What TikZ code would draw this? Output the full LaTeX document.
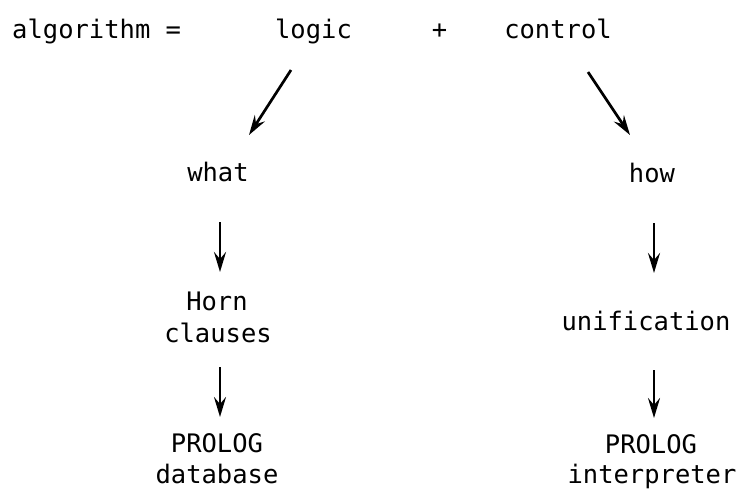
\documentclass[tikz,border=0pt]{standalone}
\usepackage{fontspec}
\setmainfont{DejaVu Sans Mono}
\usetikzlibrary{arrows.meta}
\tikzset{
  lbl/.style={inner sep=0pt, anchor=base, font=\fontsize{25.5}{30}\selectfont},
  arr/.style={line width=2.7pt, -{Stealth[length=20pt,width=12pt,inset=7pt]}}
}
\begin{document}
\begin{tikzpicture}[x=1pt,y=-1pt]
\useasboundingbox (0,0) rectangle (740,491);
% top row
\node[lbl, anchor=base west] (alg) at (12,38) {algorithm =};
\node[lbl] (logic) at (313.5,38) {logic};
\node[lbl] (plus) at (439.5,38) {+};
\node[lbl] (control) at (558,38) {control};
% left column
\node[lbl] (what) at (218,181) {what};
\node[lbl] (horn) at (217,310) {Horn};
\node[lbl] (clauses) at (218,342) {clauses};
\node[lbl] (prologL) at (217,452) {PROLOG};
\node[lbl] (database) at (217,483) {database};
% right column
\node[lbl] (how) at (652,182) {how};
\node[lbl] (unif) at (646,330) {unification};
\node[lbl] (prologR) at (651,453) {PROLOG};
\node[lbl] (interp) at (652,483) {interpreter};
% arrows
\draw[arr] ([xshift=-22.5pt,yshift=-32pt]logic.base) -- ([xshift=31pt,yshift=46pt]what.base);
\draw[arr] ([xshift=30pt,yshift=-34pt]control.base) -- ([xshift=-22pt,yshift=47pt]how.base);
\draw[arr] ([xshift=2pt,yshift=-41pt]what.base) -- ([xshift=3pt,yshift=38pt]horn.base);
\draw[arr] ([xshift=2pt,yshift=-25pt]clauses.base) -- ([xshift=3pt,yshift=35pt]prologL.base);
\draw[arr] ([xshift=2pt,yshift=-41pt]how.base) -- ([xshift=8pt,yshift=57pt]unif.base);
\draw[arr] ([xshift=8pt,yshift=-40pt]unif.base) -- ([xshift=3pt,yshift=35pt]prologR.base);
\end{tikzpicture}
\end{document}
